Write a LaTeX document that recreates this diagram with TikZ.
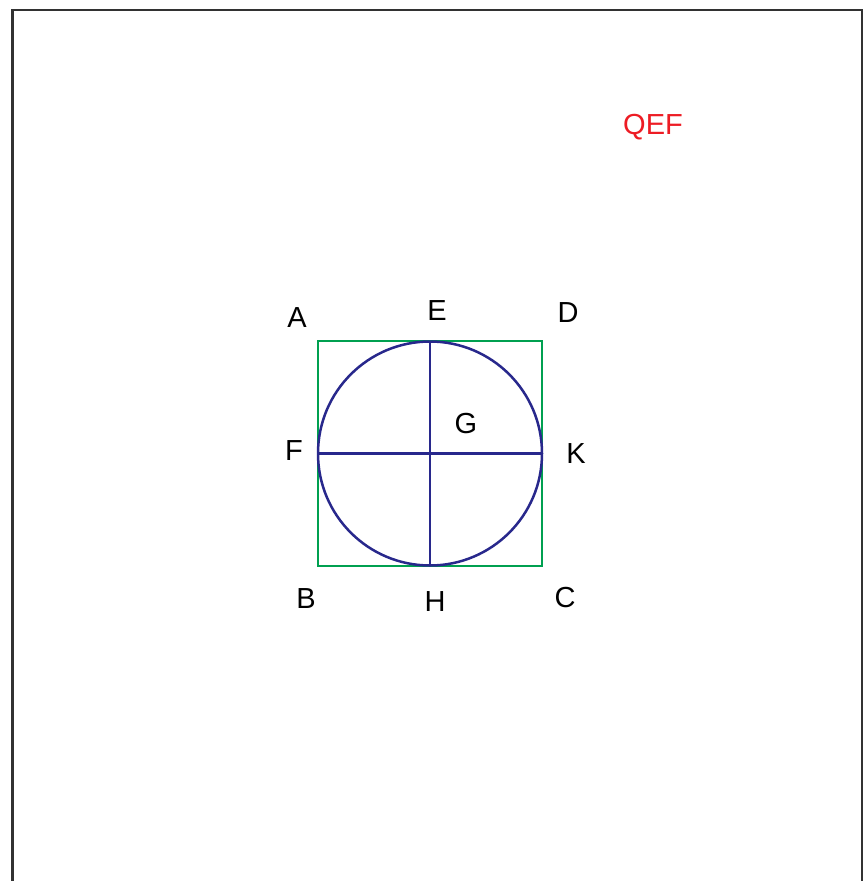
\documentclass[tikz,border=0pt]{standalone}
\usepackage{fontspec}
\setmainfont{Liberation Sans}
\definecolor{framegray}{RGB}{50,50,50}
\definecolor{sqgreen}{RGB}{0,160,80}
\definecolor{circblue}{RGB}{40,40,140}
\definecolor{qefred}{RGB}{237,28,36}
\begin{document}
\begin{tikzpicture}[x=1pt,y=-1pt,
  lbl/.style={anchor=base,inner sep=0pt,font=\fontsize{29}{34}\selectfont},
  thin line/.style={line width=2.5pt}]
\useasboundingbox (0,0) rectangle (864,881);
\fill[white] (0,0) rectangle (864,881);
% outer frame
\coordinate (fbl) at (12.5,890);
\coordinate (ftl) at (12.5,10);
\coordinate (ftr) at (862,10);
\coordinate (fbr) at (862,890);
\draw[framegray,line width=2.5pt] (fbl) -- (ftl) -- (ftr) -- (fbr);
% square
\coordinate (A) at (318,341);
\coordinate (C) at (542,566);
\coordinate (G) at (430,453.5);
\coordinate (E) at (430,341);
\coordinate (H) at (430,566);
\coordinate (F) at (318,453.5);
\coordinate (K) at (542,453.5);
\draw[sqgreen,thin line] (A) rectangle (C);
\draw[circblue,thin line] (G) circle[radius=112];
\draw[circblue,thin line] (E) -- (H);
\draw[circblue,thin line] (F) -- (K);
% labels
\node[lbl] (lA) at (297,327) {A};
\node[lbl] (lE) at (437,320) {E};
\node[lbl] (lD) at (568,322.5) {D};
\node[lbl] (lG) at (466,433) {G};
\node[lbl] (lF) at (294,460) {F};
\node[lbl] (lK) at (576,463.5) {K};
\node[lbl] (lB) at (306,608) {B};
\node[lbl] (lH) at (435,611) {H};
\node[lbl] (lC) at (565,607) {C};
\node[lbl,text=qefred] (qef) at (653,134) {QEF};
\end{tikzpicture}
\end{document}
